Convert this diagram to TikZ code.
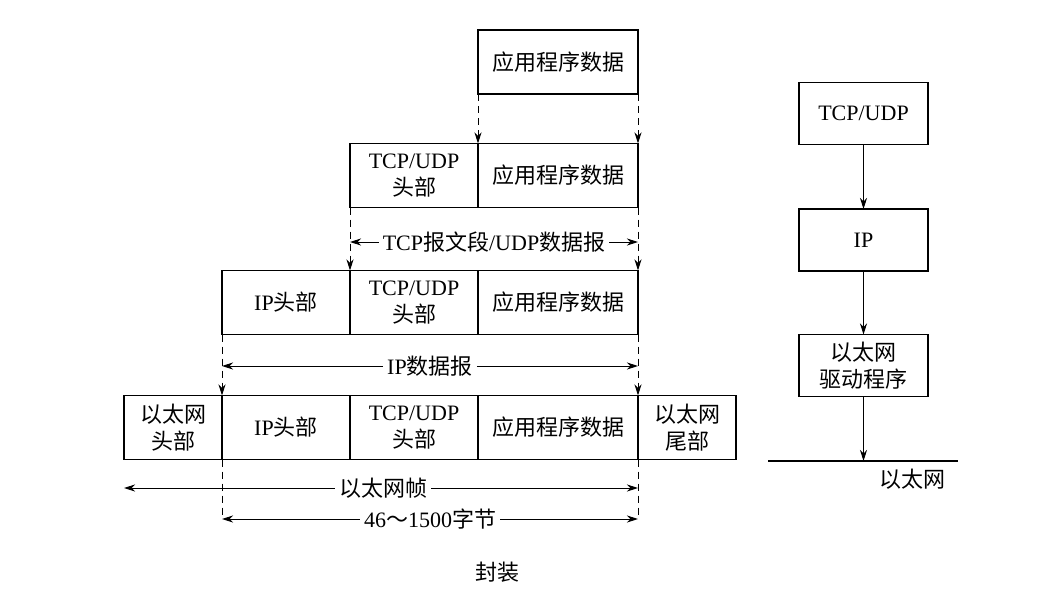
\documentclass[tikz,border=0pt]{standalone}
\usepackage{fontspec}
\setmainfont{Liberation Serif}
\newfontfamily\cjkfont{Noto Sans CJK SC}
\newcommand{\zh}[1]{{\cjkfont #1}}
\usetikzlibrary{arrows.meta,positioning}

\begin{document}
\begin{tikzpicture}[x=1pt, y=-1pt,
    font=\fontsize{22}{27}\selectfont,
    layer/.style={rectangle, draw, line width=1.2pt, align=center, inner sep=0pt,
                  outer sep=0pt, minimum height=64pt},
    hdr/.style={layer, minimum width=128pt},
    data/.style={layer, minimum width=160pt},
    eth/.style={layer, minimum width=98pt},
    stack/.style={layer, minimum width=129pt, minimum height=62pt},
    arrow/.style={-{Stealth[length=11pt, width=7pt, inset=3.5pt]}, line width=1pt},
    down/.style={arrow, dash pattern=on 7pt off 5pt},
    guide/.style={line width=1pt, dash pattern=on 7pt off 5pt},
    dimlabel/.style={inner sep=4pt}
  ]
    \useasboundingbox (0,0) rectangle (1038,602);

    % encapsulation rows
    \node[data] (app1) at (558,62) {\zh{应用程序数据}};

    \node[hdr] (tcp2) at (414,175.5) {TCP/UDP\\\zh{头部}};
    \node[data, right=0pt of tcp2] (app2) {\zh{应用程序数据}};

    \node[hdr] (ip3) at (286,302.5) {IP\zh{头部}};
    \node[hdr, right=0pt of ip3] (tcp3) {TCP/UDP\\\zh{头部}};
    \node[data, right=0pt of tcp3] (app3) {\zh{应用程序数据}};

    \node[eth] (ethh4) at (173,427.5) {\zh{以太网}\\\zh{头部}};
    \node[hdr, right=0pt of ethh4] (ip4) {IP\zh{头部}};
    \node[hdr, right=0pt of ip4] (tcp4) {TCP/UDP\\\zh{头部}};
    \node[data, right=0pt of tcp4] (app4) {\zh{应用程序数据}};
    \node[eth, right=0pt of app4] (etht4) {\zh{以太网}\\\zh{尾部}};

    \draw[down] (app1.south west) -- (app2.north west);
    \draw[down] (app1.south east) -- (app2.north east);
    \draw[down] (tcp2.south west) -- (tcp3.north west);
    \draw[down] (app2.south east) -- (app3.north east);
    \draw[down] (ip3.south west) -- (ip4.north west);
    \draw[down] (app3.south east) -- (app4.north east);

    \coordinate (lenL) at (222,519);
    \coordinate (lenR) at (638,519);
    \draw[guide] (ip4.south west) -- (lenL);
    \draw[guide] (app4.south east) -- (lenR);

    % lengths
    \node[dimlabel] (seg) at (494,242) {TCP\zh{报文段}/UDP\zh{数据报}};
    \draw[arrow] (seg.west) -- (seg.west -| tcp2.south west);
    \draw[arrow] (seg.east) -- (seg.east -| app2.south east);

    \node[dimlabel] (dgram) at (430,366) {IP\zh{数据报}};
    \draw[arrow] (dgram.west) -- (dgram.west -| ip3.south west);
    \draw[arrow] (dgram.east) -- (dgram.east -| app3.south east);

    \node[dimlabel] (frame) at (383,488) {\zh{以太网帧}};
    \draw[arrow] (frame.west) -- (frame.west -| ethh4.south west);
    \draw[arrow] (frame.east) -- (frame.east -| lenR);

    \node[dimlabel] (len) at (430,519) {46\zh{～}1500\zh{字节}};
    \draw[arrow] (len.west) -- (lenL);
    \draw[arrow] (len.east) -- (lenR);

    % protocol stack
    \node[stack] (tcpR) at (863.5,113.5) {TCP/UDP};
    \node[stack] (ipR) at (863.5,240) {IP};
    \node[stack] (drvR) at (863.5,365.5) {\zh{以太网}\\\zh{驱动程序}};
    \draw[arrow] (tcpR) -- (ipR);
    \draw[arrow] (ipR) -- (drvR);

    \coordinate (netL) at (768,461);
    \coordinate (netR) at (958,461);
    \draw[line width=1.2pt] (netL) -- (netR);
    \draw[arrow] (drvR) -- (drvR.south |- netL);
    \node (net) at (912,479) {\zh{以太网}};

    \node (caption) at (497,572) {\zh{封装}};
  \end{tikzpicture}
\end{document}
